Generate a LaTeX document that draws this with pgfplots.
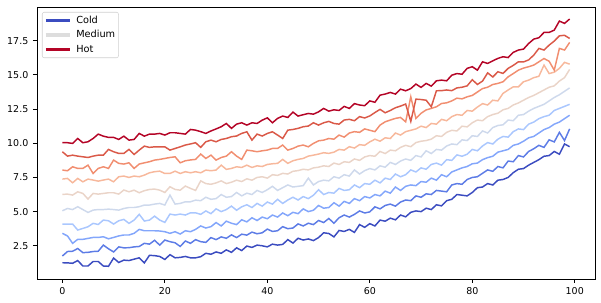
\documentclass[border=0pt]{standalone}
\usepackage{fontspec}
\setmainfont{DejaVu Sans}
\usepackage{pgfplots}
\pgfplotsset{compat=1.18}
\usepackage{pgfplotstable}
\definecolor{c0}{RGB}{59,76,192}
\definecolor{c1}{RGB}{93,124,230}
\definecolor{c2}{RGB}{131,166,251}
\definecolor{c3}{RGB}{170,199,254}
\definecolor{c4}{RGB}{206,217,236}
\definecolor{c5}{RGB}{234,212,200}
\definecolor{c6}{RGB}{247,184,156}
\definecolor{c7}{RGB}{241,142,112}
\definecolor{c8}{RGB}{218,89,72}
\definecolor{c9}{RGB}{180,4,38}
\definecolor{cmed}{RGB}{221,221,221}
\pgfplotstableread{
x y0 y1 y2 y3 y4 y5 y6 y7 y8 y9
0 1.26 1.75 3.41 4.09 5.06 6.26 7.38 8.04 9.38 10.04
1 1.25 2.08 3.22 4.09 5.23 6.28 7.43 7.99 9.06 10.04
2 1.22 2.10 2.68 4.09 5.15 6.21 7.11 8.28 9.13 9.99
3 1.42 2.30 2.97 3.65 5.36 6.45 7.43 8.16 9.06 10.35
4 1.02 2.00 2.97 3.77 5.15 6.33 7.18 8.16 9.01 10.04
5 1.02 2.02 3.04 3.89 4.94 5.92 7.38 8.40 8.96 10.11
6 1.35 2.08 3.11 4.14 5.11 6.33 7.31 7.79 9.06 10.35
7 1.35 2.10 3.11 4.06 5.15 6.28 7.23 8.16 9.13 10.67
8 1.02 2.55 3.16 4.38 5.15 6.33 7.31 8.28 9.13 10.52
9 1.00 2.28 3.01 4.33 5.18 6.38 7.38 8.16 9.55 10.43
10 1.60 2.05 3.11 4.09 5.15 6.38 7.18 8.77 9.38 10.43
11 1.28 2.42 3.22 4.33 5.11 6.28 7.55 8.53 9.26 10.28
12 1.45 2.35 3.29 4.43 5.23 6.58 7.60 8.48 9.26 10.52
13 1.42 2.36 3.29 4.14 5.30 6.45 7.50 8.57 9.55 10.23
14 1.52 2.42 3.41 4.38 5.30 6.57 7.60 8.16 9.18 10.28
15 1.62 2.45 3.70 4.80 5.36 6.38 7.55 8.48 9.50 10.72
16 1.25 2.68 3.60 4.31 5.48 6.53 7.67 8.57 9.79 10.52
17 1.80 2.62 3.60 4.38 5.48 6.62 7.84 8.65 9.70 10.67
18 1.78 2.90 3.60 4.67 5.55 6.65 7.92 8.77 9.74 10.67
19 1.72 2.55 3.58 4.38 5.60 6.57 7.96 8.82 9.74 10.72
20 1.50 2.92 3.53 4.21 5.48 6.40 7.79 8.89 9.74 10.60
21 1.85 2.80 3.41 4.82 6.21 6.82 7.79 8.96 9.50 10.77
22 1.62 2.72 3.53 4.75 5.55 6.62 7.96 9.01 9.62 10.77
23 1.65 2.45 3.36 4.82 5.60 6.57 7.79 8.57 9.74 10.72
24 1.72 2.85 3.60 4.75 5.72 6.87 7.92 8.72 9.87 10.67
25 1.62 2.68 3.53 4.91 5.72 6.70 7.84 8.78 9.95 11.01
26 1.62 2.95 3.70 4.91 5.84 6.55 7.92 8.82 10.04 10.96
27 1.70 2.80 3.95 4.80 5.80 7.25 7.84 9.21 9.70 10.85
28 1.95 2.75 3.80 5.05 6.05 7.05 8.04 8.89 10.11 10.72
29 1.88 3.10 3.90 4.85 5.90 7.00 7.99 9.13 10.23 10.90
30 2.05 2.95 4.20 5.20 5.95 7.10 8.04 8.77 10.11 11.05
31 1.95 3.15 3.95 5.00 6.25 7.25 8.40 8.96 10.28 11.21
32 2.20 3.05 4.30 5.15 6.05 7.05 8.09 9.06 10.35 11.45
33 2.02 3.30 4.15 5.40 6.10 7.15 8.16 9.38 10.48 11.09
34 2.35 3.10 4.05 5.10 6.40 7.30 8.28 9.06 10.53 11.40
35 2.15 3.35 4.40 5.35 6.15 7.20 8.23 8.82 10.72 11.50
36 2.48 3.28 4.25 5.50 6.35 7.40 8.40 9.50 10.84 11.33
37 2.38 3.50 4.55 5.30 6.25 7.30 8.23 9.45 10.23 11.50
38 2.55 3.38 4.35 5.60 6.55 7.50 8.35 9.38 10.67 11.45
39 2.50 3.45 4.60 5.40 6.40 7.55 8.30 9.45 10.53 11.69
40 2.42 3.72 4.48 5.70 6.60 7.45 8.45 9.50 10.72 11.86
41 2.62 3.55 4.75 5.55 6.85 7.70 8.50 9.62 10.84 11.50
42 2.55 3.60 4.60 5.90 6.55 7.65 8.53 9.62 10.60 11.82
43 2.60 3.90 4.90 5.60 6.75 7.80 8.82 9.87 10.35 11.99
44 2.95 3.75 4.70 5.85 6.95 7.75 8.53 9.50 10.96 11.89
45 2.70 3.80 4.95 6.05 6.80 7.95 8.72 9.62 11.01 12.28
46 3.05 4.10 4.85 5.85 6.85 8.00 8.82 9.79 11.09 11.99
47 2.92 3.95 5.20 6.10 6.90 8.10 8.89 9.87 11.21 12.09
48 3.00 4.15 5.00 5.95 7.45 8.05 9.06 9.74 11.26 12.18
49 2.88 4.05 5.10 6.20 6.95 8.20 9.13 9.99 11.50 12.13
50 3.10 4.35 5.45 6.60 7.20 8.25 9.21 10.18 11.33 12.30
51 3.45 4.20 5.25 6.25 7.30 8.35 9.31 10.23 11.50 12.55
52 3.40 4.50 5.30 6.40 7.25 8.30 9.26 10.35 11.60 12.35
53 3.15 4.15 5.65 6.35 7.55 8.55 9.35 10.30 11.45 12.45
54 3.62 4.55 5.40 6.70 7.45 8.45 9.55 10.60 11.40 12.40
55 3.55 4.75 5.75 6.55 7.70 8.65 9.50 10.45 11.70 12.70
56 3.70 4.60 5.60 6.60 7.60 8.60 9.75 10.75 11.75 12.55
57 3.48 4.80 5.95 6.95 8.05 8.85 9.65 10.85 11.65 12.90
58 4.05 5.05 5.80 6.75 7.75 8.75 9.90 10.80 11.95 12.80
59 3.85 4.90 6.10 7.05 8.00 9.00 9.85 11.05 11.85 12.75
60 4.12 4.98 6.00 7.00 8.15 9.10 10.10 10.95 12.00 13.10
61 3.95 5.35 6.25 7.30 8.05 9.05 10.30 10.85 12.25 13.00
62 4.38 5.20 6.15 7.10 8.35 9.40 10.15 11.33 12.48 13.52
63 4.30 5.45 6.50 7.45 8.25 9.25 10.40 11.57 12.23 13.60
64 4.52 5.55 6.35 7.35 8.60 9.50 10.35 11.70 12.40 13.72
65 4.40 5.40 6.80 7.75 8.45 9.45 10.75 11.82 12.60 13.60
66 4.75 5.70 6.55 7.55 8.70 9.70 10.60 11.89 12.72 13.96
67 4.62 5.85 6.85 7.70 8.85 9.85 10.85 11.57 12.87 13.84
68 4.95 5.80 6.95 8.05 8.75 9.75 10.95 13.40 11.60 14.00
69 5.05 6.15 6.90 7.90 9.10 10.05 11.05 11.82 13.23 14.33
70 5.00 6.05 7.20 8.20 9.00 10.15 11.25 12.19 13.20 14.09
71 5.25 6.30 7.15 8.10 9.45 10.20 11.15 12.44 13.15 14.38
72 5.15 6.25 7.45 8.45 9.25 10.30 11.45 12.55 12.67 14.18
73 5.50 6.55 7.30 8.55 9.55 10.55 11.40 12.67 13.84 14.57
74 5.42 6.50 7.70 8.40 9.50 10.50 11.75 12.91 13.85 14.62
75 5.80 6.45 7.55 8.80 9.80 10.80 11.65 12.96 13.90 14.57
76 5.90 6.95 7.90 8.75 9.95 10.95 11.95 13.10 13.85 14.98
77 6.25 7.05 8.05 9.15 9.90 10.90 12.10 13.30 14.05 15.10
78 6.20 7.00 8.20 9.05 10.25 11.25 12.05 13.25 14.10 15.05
79 6.15 7.35 8.30 9.20 10.20 11.20 12.40 13.40 14.20 15.48
80 6.40 7.50 8.50 9.55 10.55 11.50 12.35 13.50 14.65 15.60
81 6.75 7.55 8.55 9.45 10.50 11.70 12.65 13.75 14.30 15.35
82 6.80 7.80 8.80 9.80 10.90 11.65 12.90 14.00 14.55 15.96
83 7.05 8.05 8.95 10.05 10.75 11.95 12.80 14.10 15.15 15.84
84 6.95 7.95 9.05 9.95 11.15 12.10 13.15 14.30 14.85 16.03
85 7.30 8.30 9.35 10.30 11.30 12.20 13.10 14.38 15.23 16.21
86 7.35 8.20 9.45 10.50 11.35 12.45 13.65 14.50 15.11 16.33
87 7.50 8.70 9.55 10.45 11.70 12.55 13.90 14.86 15.48 16.27
88 7.85 8.65 9.85 10.85 11.65 12.80 14.13 15.10 15.70 16.65
89 8.10 9.10 9.95 11.05 12.05 12.95 14.13 15.35 15.96 16.82
90 8.15 9.00 10.15 11.00 12.10 13.15 14.50 15.50 15.95 16.89
91 8.40 9.40 10.40 11.40 12.35 13.35 14.62 15.60 16.10 17.30
92 8.60 9.60 10.50 11.55 12.55 13.50 14.80 15.72 16.45 17.62
93 8.80 9.85 10.75 11.80 12.70 13.70 14.90 15.96 16.94 17.72
94 9.05 9.70 11.00 11.95 12.85 13.90 15.72 16.20 16.82 18.11
95 9.10 10.25 11.15 12.05 13.10 14.10 15.10 16.00 17.18 18.11
96 9.40 10.10 11.40 12.40 13.35 14.20 15.20 15.35 17.48 18.28
97 9.20 10.80 11.55 12.55 13.55 14.55 15.48 16.94 17.86 18.94
98 9.95 10.20 11.80 12.70 13.80 14.80 15.92 16.82 17.90 18.77
99 9.75 11.05 12.05 12.85 14.05 15.40 15.79 17.38 17.67 19.09
}\datatable
\begin{document}
\begin{tikzpicture}
\begin{axis}[
  scale only axis, width=418.5pt, height=204pt,
  xmin=-4.95, xmax=103.95, ymin=0.07, ymax=19.97,
  xtick={0,20,40,60,80,100},
  ytick={2.5,5,7.5,10,12.5,15,17.5},
  y tick label style={/pgf/number format/.cd, fixed, fixed zerofill, precision=1, /tikz/.cd},
  /pgf/number format/assume math mode=true,
  tick align=outside, tick pos=left, major tick length=3pt,
  axis line style={line width=0.7pt},
  every tick/.style={black, line width=0.7pt},
  ticklabel style={font=\fontsize{7.1}{8.5}\selectfont},
  legend style={at={(0,1)}, anchor=north west, xshift=3.75pt, yshift=-3.75pt,
    draw=black!18, rounded corners=1.5pt, fill=white, fill opacity=0.8, text opacity=1,
    font=\fontsize{7.3}{8.5}\selectfont, row sep=1.8pt, column sep=2.5pt,
    inner xsep=1.5pt, inner ysep=1.8pt, nodes={inner sep=1pt}},
  legend cell align=left,
  legend image code/.code={\draw[#1] (0pt,0pt) -- (18pt,0pt);},
]
\addplot[c0, line width=1.1pt, forget plot] table[x=x, y=y0] {\datatable};
\addplot[c1, line width=1.1pt, forget plot] table[x=x, y=y1] {\datatable};
\addplot[c2, line width=1.1pt, forget plot] table[x=x, y=y2] {\datatable};
\addplot[c3, line width=1.1pt, forget plot] table[x=x, y=y3] {\datatable};
\addplot[c4, line width=1.1pt, forget plot] table[x=x, y=y4] {\datatable};
\addplot[c5, line width=1.1pt, forget plot] table[x=x, y=y5] {\datatable};
\addplot[c6, line width=1.1pt, forget plot] table[x=x, y=y6] {\datatable};
\addplot[c7, line width=1.1pt, forget plot] table[x=x, y=y7] {\datatable};
\addplot[c8, line width=1.1pt, forget plot] table[x=x, y=y8] {\datatable};
\addplot[c9, line width=1.1pt, forget plot] table[x=x, y=y9] {\datatable};
\addlegendimage{c0, line width=2.5pt}
\addlegendentry{Cold}
\addlegendimage{cmed, line width=2.5pt}
\addlegendentry{Medium}
\addlegendimage{c9, line width=2.5pt}
\addlegendentry{Hot}
\end{axis}
\pgfresetboundingbox
\path (current axis.south west) ++(-27.75pt,-18pt) rectangle ([shift={(4.5pt,5.25pt)}]current axis.north east);
\end{tikzpicture}
\end{document}
